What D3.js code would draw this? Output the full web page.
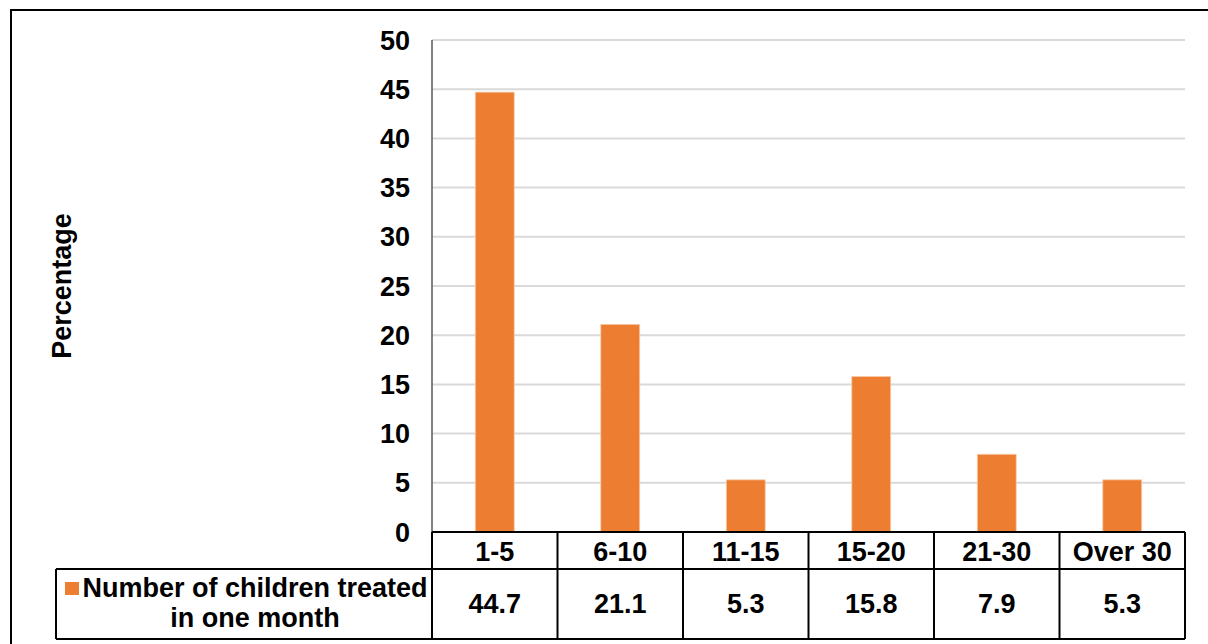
<!DOCTYPE html>
<html>
<head>
<meta charset="utf-8">
<script src="https://cdn.jsdelivr.net/npm/d3@7"></script>
<style>
  html, body { margin: 0; padding: 0; background: #ffffff; }
  svg { display: block; }
  text { font-family: "Liberation Sans", Arial, Helvetica, sans-serif; font-weight: bold; fill: #000; }
</style>
</head>
<body>
<svg id="chart" width="1208" height="644"></svg>
<script>
// Share of respondents by number of children treated per month
const categories = ["1-5", "6-10", "11-15", "15-20", "21-30", "Over 30"];
const values = [44.7, 21.1, 5.3, 15.8, 7.9, 5.3];
const yTicks = [0, 5, 10, 15, 20, 25, 30, 35, 40, 45, 50];
const seriesName = ["Number of children treated", "in one month"];
const yTitle = "Percentage";

const barColor = "#ed7d31";
const fontSize = 27;
const svg = d3.select("#chart");

// plot frame
const plot = { left: 432, right: 1185, top: 40, bottom: 532 };
const table = { catBottom: 569, valBottom: 639, legendLeft: 56 };

const x = d3.scaleBand().domain(categories).range([plot.left, plot.right]).padding(0);
const y = d3.scaleLinear().domain([0, 50]).range([plot.bottom, plot.top]);

// outer chart border
svg.append("rect")
  .attr("x", 11).attr("y", 10)
  .attr("width", 1230).attr("height", 660)
  .attr("fill", "none").attr("stroke", "#000").attr("stroke-width", 2);

// horizontal gridlines
svg.append("g")
  .selectAll("line")
  .data(yTicks.filter(d => d > 0))
  .join("line")
  .attr("x1", plot.left).attr("x2", plot.right)
  .attr("y1", d => y(d)).attr("y2", d => y(d))
  .attr("stroke", "#d9d9d9").attr("stroke-width", 2);

// y axis labels
const yAxis = d3.axisLeft(y).tickValues(yTicks).tickSize(0).tickPadding(22);
const gy = svg.append("g").attr("transform", `translate(${plot.left},0)`).call(yAxis);
gy.select(".domain").remove();
gy.selectAll("text")
  .attr("font-size", fontSize)
  .attr("font-family", "Liberation Sans, Arial, sans-serif")
  .attr("font-weight", "bold")
  .attr("fill", "#000")
  .attr("dy", "0.34em");

// y axis line
svg.append("line")
  .attr("x1", plot.left).attr("x2", plot.left)
  .attr("y1", plot.top).attr("y2", plot.bottom)
  .attr("stroke", "#595959").attr("stroke-width", 1.5);

// bars
const barW = x.bandwidth() * 0.31;
svg.append("g")
  .selectAll("rect")
  .data(values)
  .join("rect")
  .attr("x", (d, i) => x(categories[i]) + (x.bandwidth() - barW) / 2)
  .attr("y", d => y(d))
  .attr("width", barW)
  .attr("height", d => y(0) - y(d))
  .attr("fill", barColor)
  .attr("stroke", "#f8c9a8").attr("stroke-width", 0.8);

// y axis title
svg.append("text")
  .attr("transform", `translate(62, 286) rotate(-90)`)
  .attr("text-anchor", "middle")
  .attr("dominant-baseline", "central")
  .attr("font-size", fontSize)
  .text(yTitle);

// data table
const tg = svg.append("g");
const lineStyle = sel => sel.attr("stroke", "#000").attr("stroke-width", 2);

// horizontal rules
tg.append("line").attr("x1", plot.left).attr("x2", plot.right)
  .attr("y1", plot.bottom).attr("y2", plot.bottom).call(lineStyle);
tg.append("line").attr("x1", table.legendLeft).attr("x2", plot.right)
  .attr("y1", table.catBottom).attr("y2", table.catBottom).call(lineStyle);
tg.append("line").attr("x1", table.legendLeft).attr("x2", plot.right)
  .attr("y1", table.valBottom).attr("y2", table.valBottom).call(lineStyle);

// vertical rules at column boundaries
const bounds = categories.map(c => x(c)).concat([plot.right]);
tg.selectAll("line.v")
  .data(bounds)
  .join("line")
  .attr("class", "v")
  .attr("x1", d => d).attr("x2", d => d)
  .attr("y1", plot.bottom).attr("y2", table.valBottom)
  .call(lineStyle);
tg.append("line").attr("x1", table.legendLeft).attr("x2", table.legendLeft)
  .attr("y1", table.catBottom).attr("y2", table.valBottom).call(lineStyle);

// category labels
tg.selectAll("text.cat")
  .data(categories)
  .join("text")
  .attr("class", "cat")
  .attr("x", d => x(d) + x.bandwidth() / 2)
  .attr("y", (plot.bottom + table.catBottom) / 2 + 1)
  .attr("text-anchor", "middle")
  .attr("dominant-baseline", "central")
  .attr("font-size", fontSize)
  .text(d => d);

// value labels
tg.selectAll("text.val")
  .data(values)
  .join("text")
  .attr("class", "val")
  .attr("x", (d, i) => x(categories[i]) + x.bandwidth() / 2)
  .attr("y", (table.catBottom + table.valBottom) / 2)
  .attr("text-anchor", "middle")
  .attr("dominant-baseline", "central")
  .attr("font-size", fontSize)
  .text(d => d.toFixed(1));

// legend key and series name
tg.append("rect")
  .attr("x", 65).attr("y", 582)
  .attr("width", 14).attr("height", 13)
  .attr("fill", barColor);
const legendCx = 255;
tg.selectAll("text.leg")
  .data(seriesName)
  .join("text")
  .attr("class", "leg")
  .attr("x", legendCx)
  .attr("y", (d, i) => 588 + i * 30)
  .attr("text-anchor", "middle")
  .attr("dominant-baseline", "central")
  .attr("font-size", fontSize)
  .text(d => d);
</script>
</body>
</html>
